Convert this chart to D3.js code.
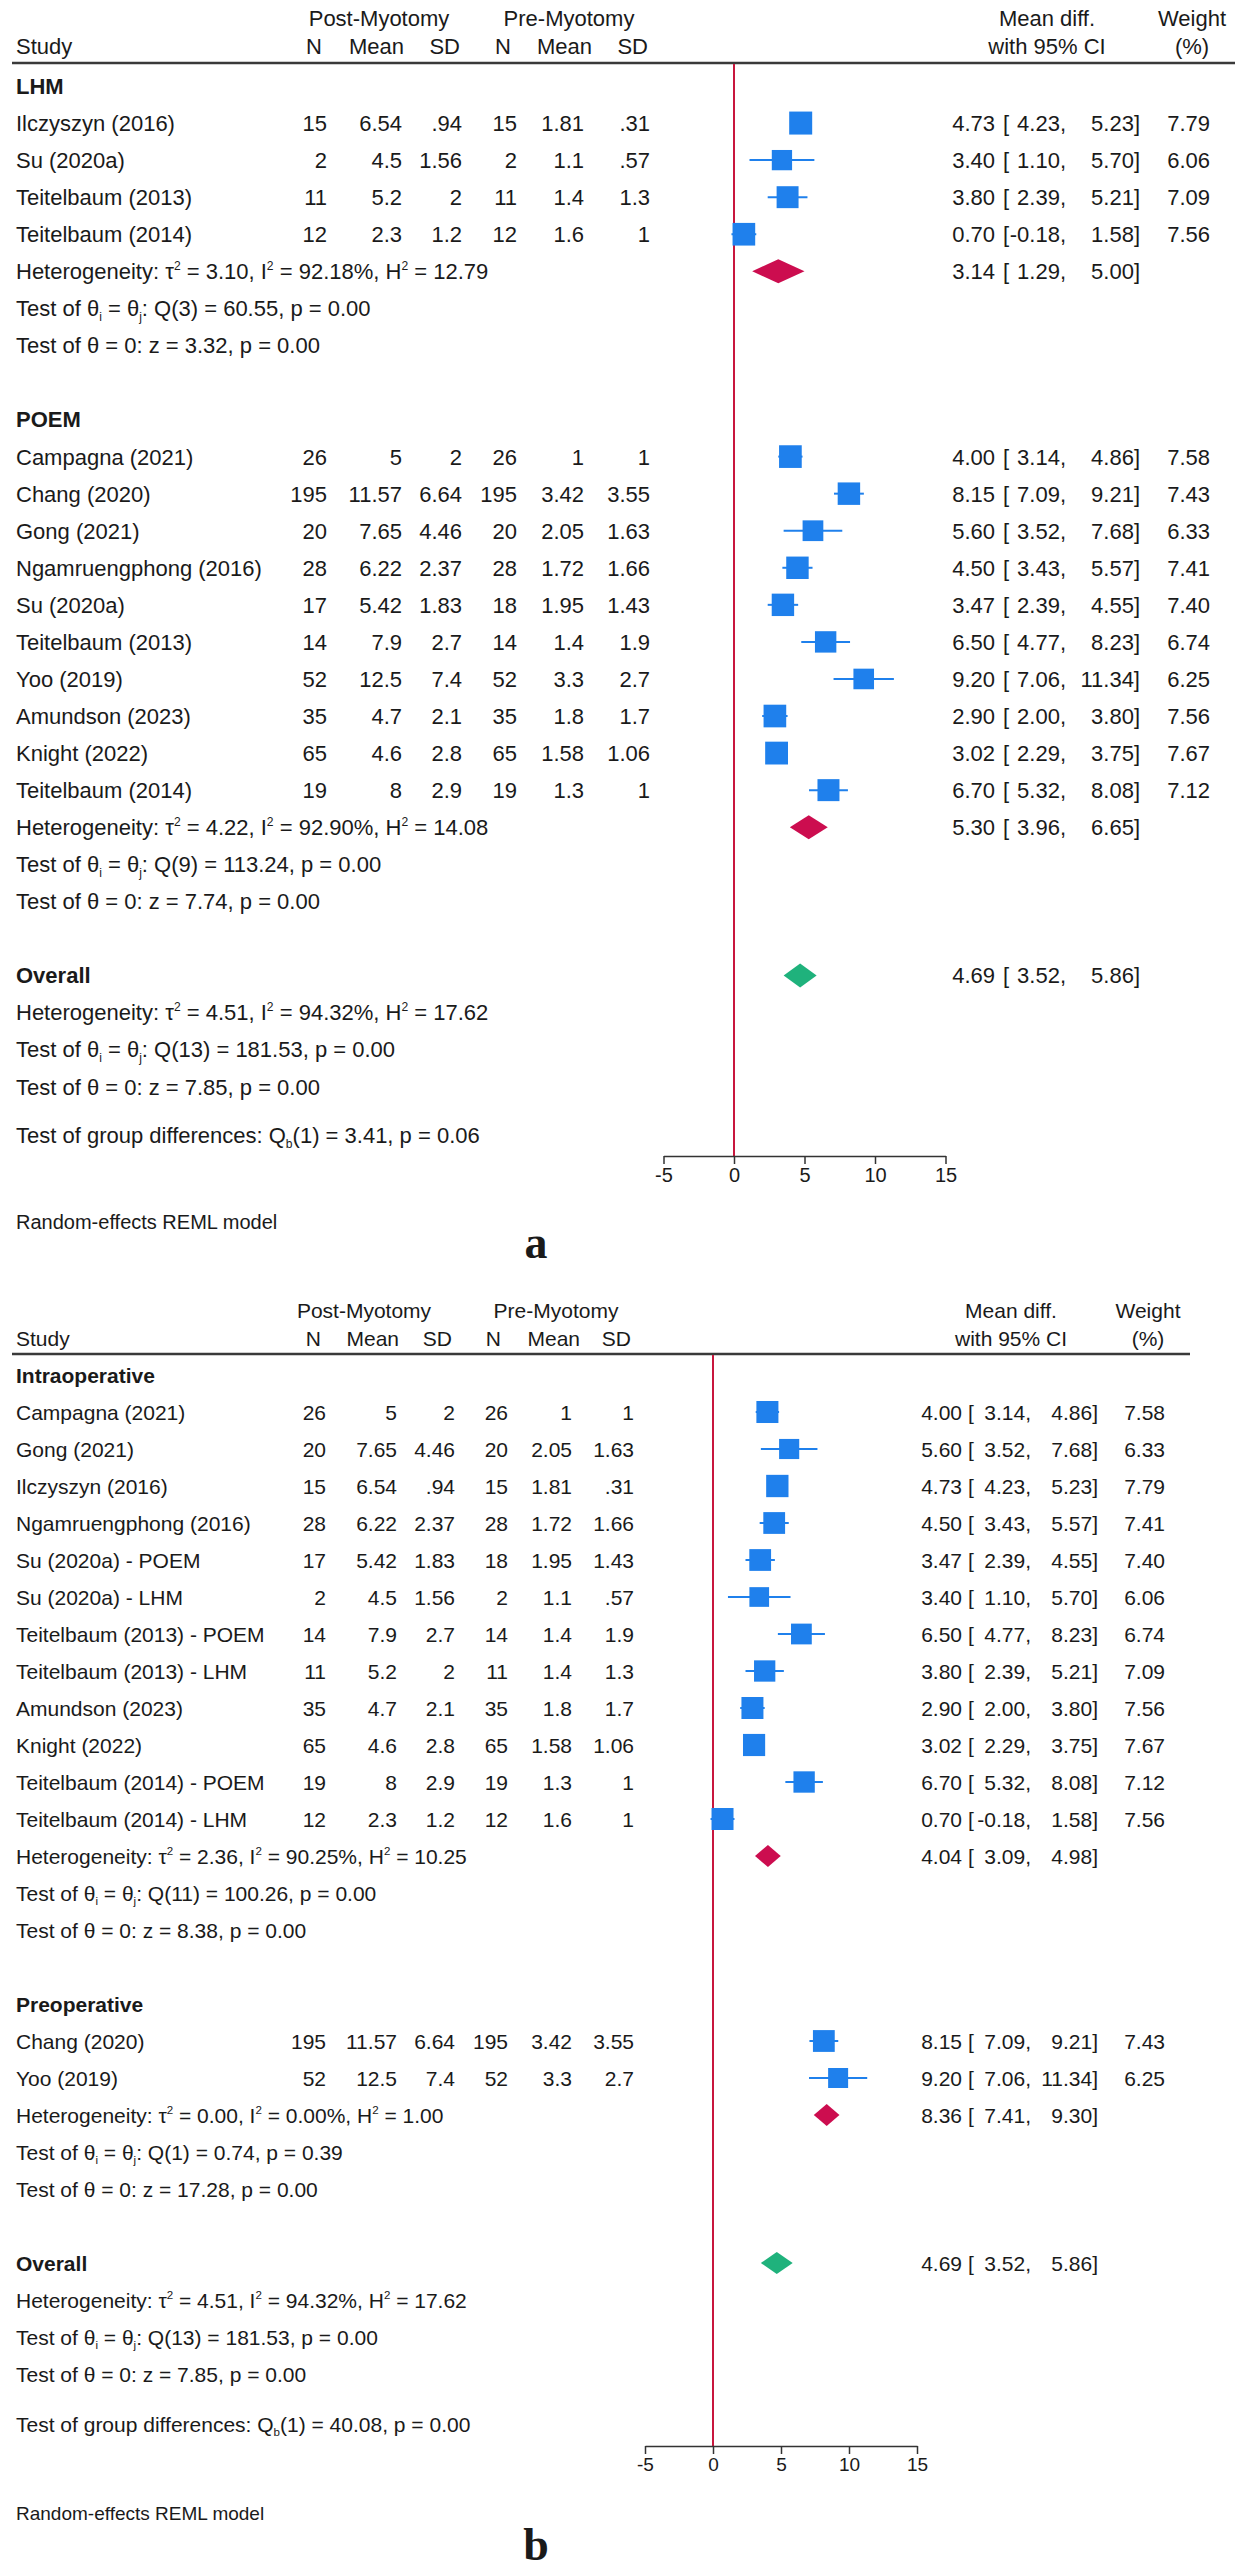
<!DOCTYPE html>
<html>
<head>
<meta charset="utf-8">
<script src="https://d3js.org/d3.v7.min.js"></script>
<style>
  body { margin: 0; background: #fff; }
  svg text { font-family: "Liberation Sans", Arial, sans-serif; fill: #1a1a1a; }
</style>
</head>
<body>
<svg id="forest" width="1241" height="2574"></svg>
<script>
// columns: study, postN, postMean, postSD, preN, preMean, preSD, md, lo, hi, weight
const lhmRows = [
  ["Ilczyszyn (2016)", 15, 6.54, .94, 15, 1.81, .31, 4.73, 4.23, 5.23, 7.79],
  ["Su (2020a)", 2, 4.5, 1.56, 2, 1.1, .57, 3.40, 1.10, 5.70, 6.06],
  ["Teitelbaum (2013)", 11, 5.2, 2, 11, 1.4, 1.3, 3.80, 2.39, 5.21, 7.09],
  ["Teitelbaum (2014)", 12, 2.3, 1.2, 12, 1.6, 1, 0.70, -0.18, 1.58, 7.56]
];
const poemRows = [
  ["Campagna (2021)", 26, 5, 2, 26, 1, 1, 4.00, 3.14, 4.86, 7.58],
  ["Chang (2020)", 195, 11.57, 6.64, 195, 3.42, 3.55, 8.15, 7.09, 9.21, 7.43],
  ["Gong (2021)", 20, 7.65, 4.46, 20, 2.05, 1.63, 5.60, 3.52, 7.68, 6.33],
  ["Ngamruengphong (2016)", 28, 6.22, 2.37, 28, 1.72, 1.66, 4.50, 3.43, 5.57, 7.41],
  ["Su (2020a)", 17, 5.42, 1.83, 18, 1.95, 1.43, 3.47, 2.39, 4.55, 7.40],
  ["Teitelbaum (2013)", 14, 7.9, 2.7, 14, 1.4, 1.9, 6.50, 4.77, 8.23, 6.74],
  ["Yoo (2019)", 52, 12.5, 7.4, 52, 3.3, 2.7, 9.20, 7.06, 11.34, 6.25],
  ["Amundson (2023)", 35, 4.7, 2.1, 35, 1.8, 1.7, 2.90, 2.00, 3.80, 7.56],
  ["Knight (2022)", 65, 4.6, 2.8, 65, 1.58, 1.06, 3.02, 2.29, 3.75, 7.67],
  ["Teitelbaum (2014)", 19, 8, 2.9, 19, 1.3, 1, 6.70, 5.32, 8.08, 7.12]
];
const intraRows = [
  ["Campagna (2021)", 26, 5, 2, 26, 1, 1, 4.00, 3.14, 4.86, 7.58],
  ["Gong (2021)", 20, 7.65, 4.46, 20, 2.05, 1.63, 5.60, 3.52, 7.68, 6.33],
  ["Ilczyszyn (2016)", 15, 6.54, .94, 15, 1.81, .31, 4.73, 4.23, 5.23, 7.79],
  ["Ngamruengphong (2016)", 28, 6.22, 2.37, 28, 1.72, 1.66, 4.50, 3.43, 5.57, 7.41],
  ["Su (2020a) - POEM", 17, 5.42, 1.83, 18, 1.95, 1.43, 3.47, 2.39, 4.55, 7.40],
  ["Su (2020a) - LHM", 2, 4.5, 1.56, 2, 1.1, .57, 3.40, 1.10, 5.70, 6.06],
  ["Teitelbaum (2013) - POEM", 14, 7.9, 2.7, 14, 1.4, 1.9, 6.50, 4.77, 8.23, 6.74],
  ["Teitelbaum (2013) - LHM", 11, 5.2, 2, 11, 1.4, 1.3, 3.80, 2.39, 5.21, 7.09],
  ["Amundson (2023)", 35, 4.7, 2.1, 35, 1.8, 1.7, 2.90, 2.00, 3.80, 7.56],
  ["Knight (2022)", 65, 4.6, 2.8, 65, 1.58, 1.06, 3.02, 2.29, 3.75, 7.67],
  ["Teitelbaum (2014) - POEM", 19, 8, 2.9, 19, 1.3, 1, 6.70, 5.32, 8.08, 7.12],
  ["Teitelbaum (2014) - LHM", 12, 2.3, 1.2, 12, 1.6, 1, 0.70, -0.18, 1.58, 7.56]
];
const preopRows = [
  ["Chang (2020)", 195, 11.57, 6.64, 195, 3.42, 3.55, 8.15, 7.09, 9.21, 7.43],
  ["Yoo (2019)", 52, 12.5, 7.4, 52, 3.3, 2.7, 9.20, 7.06, 11.34, 6.25]
];

// summaries: md, lo, hi
const lhmSummary = [3.14, 1.29, 5.00];
const poemSummary = [5.30, 3.96, 6.65];
const intraSummary = [4.04, 3.09, 4.98];
const preopSummary = [8.36, 7.41, 9.30];
const overallSummary = [4.69, 3.52, 5.86];

// heterogeneity: tau2, I2, H2 ; tests: df, Q, p, z, p
const lhmHet = ["3.10", "92.18%", "12.79"];
const lhmTests = ["3", "60.55", "0.00", "3.32", "0.00"];
const poemHet = ["4.22", "92.90%", "14.08"];
const poemTests = ["9", "113.24", "0.00", "7.74", "0.00"];
const intraHet = ["2.36", "90.25%", "10.25"];
const intraTests = ["11", "100.26", "0.00", "8.38", "0.00"];
const preopHet = ["0.00", "0.00%", "1.00"];
const preopTests = ["1", "0.74", "0.39", "17.28", "0.00"];
const overallHet = ["4.51", "94.32%", "17.62"];
const overallTests = ["13", "181.53", "0.00", "7.85", "0.00"];
const groupDiffA = ["1", "3.41", "0.06"];
const groupDiffB = ["1", "40.08", "0.00"];

const axisTicks = [-5, 0, 5, 10, 15];

const svg = d3.select("#forest");
svg.append("rect").attr("width", 1241).attr("height", 2574).attr("fill", "#fff");

const blue = "#1f80ec", crimson = "#cc0d4f", green = "#1fb27c", zeroRed = "#c8173d";

// stata style: .94 instead of 0.94
const fmt = v => String(v).replace(/^0\./, ".");

function drawPanel(cfg, groups, overall, het, tests, gdiff, letter) {
  const g = svg.append("g").style("font-size", cfg.fs + "px");
  const x = d3.scaleLinear().domain([-5, 15])
    .range([cfg.x0 - 5 * cfg.ux, cfg.x0 + 15 * cfg.ux]);
  const rowY = i => cfg.row0 + i * cfg.dy;
  const base = 0.36 * cfg.fs;

  const txt = (xx, yy, s, anchor) => g.append("text")
    .attr("x", xx).attr("y", yy + base)
    .attr("text-anchor", anchor || "start").text(s);

  // header
  txt(cfg.postC, cfg.h1, "Post-Myotomy", "middle");
  txt(cfg.preC, cfg.h1, "Pre-Myotomy", "middle");
  txt(cfg.mdC, cfg.h1, "Mean diff.", "middle");
  txt(cfg.wC, cfg.h1, "Weight", "middle");
  txt(cfg.studyX, cfg.h2, "Study");
  ["N", "Mean", "SD", "N", "Mean", "SD"].forEach((h, i) => txt(cfg.hdr[i], cfg.h2, h, "end"));
  txt(cfg.mdC, cfg.h2, "with 95% CI", "middle");
  txt(cfg.wC, cfg.h2, "(%)", "middle");
  g.append("line").attr("x1", 12).attr("x2", cfg.lineEnd)
    .attr("y1", cfg.hLine).attr("y2", cfg.hLine)
    .attr("stroke", "#3a3a3a").attr("stroke-width", 2.5);

  // zero line
  g.append("line").attr("x1", x(0)).attr("x2", x(0))
    .attr("y1", cfg.hLine + 1).attr("y2", cfg.axisY)
    .attr("stroke", zeroRed).attr("stroke-width", 2);

  const ciText = (yy, md, lo, hi, w) => {
    txt(cfg.estR, yy, md.toFixed(2), "end");
    txt(cfg.brX, yy, "[");
    txt(cfg.loR, yy, lo.toFixed(2) + ",", "end");
    txt(cfg.hiR, yy, hi.toFixed(2) + "]", "end");
    if (w !== undefined) txt(cfg.wR, yy, w.toFixed(2), "end");
  };

  const diamond = (yy, s, color) => g.append("polygon")
    .attr("points", [[x(s[1]), yy], [x(s[0]), yy - cfg.dh], [x(s[2]), yy], [x(s[0]), yy + cfg.dh]].join(" "))
    .attr("fill", color);

  const hetLine = (yy, h) => {
    const t = g.append("text").attr("x", cfg.studyX).attr("y", yy + base);
    const sup = s => { t.append("tspan").attr("dy", -0.42 * cfg.fs).style("font-size", (cfg.fs * 0.55) + "px").text("2");
                       t.append("tspan").attr("dy", 0.42 * cfg.fs).text(s); };
    t.append("tspan").text("Heterogeneity: τ");
    sup(" = " + h[0] + ", I");
    sup(" = " + h[1] + ", H");
    sup(" = " + h[2]);
  };
  const qLine = (yy, tt) => {
    const t = g.append("text").attr("x", cfg.studyX).attr("y", yy + base);
    const sub = (c, s) => { t.append("tspan").attr("dy", 0.22 * cfg.fs).style("font-size", (cfg.fs * 0.55) + "px").text(c);
                            t.append("tspan").attr("dy", -0.22 * cfg.fs).text(s); };
    t.append("tspan").text("Test of θ");
    sub("i", " = θ");
    sub("j", ": Q(" + tt[0] + ") = " + tt[1] + ", p = " + tt[2]);
  };
  const zLine = (yy, tt) => txt(cfg.studyX, yy, "Test of θ = 0: z = " + tt[3] + ", p = " + tt[4]);

  let r = 0;
  groups.forEach(gr => {
    txt(cfg.studyX, rowY(r), gr.label).style("font-weight", "bold");
    r++;
    gr.rows.forEach(d => {
      const yy = rowY(r);
      txt(cfg.studyX, yy, d[0]);
      d.slice(1, 7).forEach((v, i) => txt(cfg.col[i], yy, fmt(v), "end"));
      g.append("line").attr("x1", x(d[8])).attr("x2", x(d[9]))
        .attr("y1", yy).attr("y2", yy).attr("stroke", blue).attr("stroke-width", 2);
      const s = cfg.k * Math.sqrt(d[10]);
      g.append("rect").attr("x", x(d[7]) - s / 2).attr("y", yy - s / 2)
        .attr("width", s).attr("height", s).attr("fill", blue);
      ciText(yy, d[7], d[8], d[9], d[10]);
      r++;
    });
    hetLine(rowY(r), gr.het);
    diamond(rowY(r), gr.summary, crimson);
    ciText(rowY(r), gr.summary[0], gr.summary[1], gr.summary[2]);
    r++;
    qLine(rowY(r), gr.tests); r++;
    zLine(rowY(r), gr.tests); r++;
    r++;
  });
  txt(cfg.studyX, rowY(r), "Overall").style("font-weight", "bold");
  diamond(rowY(r), overall, green);
  ciText(rowY(r), overall[0], overall[1], overall[2]);
  r++;
  hetLine(rowY(r), het); r++;
  qLine(rowY(r), tests); r++;
  zLine(rowY(r), tests); r++;

  // group differences
  const t = g.append("text").attr("x", cfg.studyX).attr("y", cfg.gdY + base);
  t.append("tspan").text("Test of group differences: Q");
  t.append("tspan").attr("dy", 0.22 * cfg.fs).style("font-size", (cfg.fs * 0.55) + "px").text("b");
  t.append("tspan").attr("dy", -0.22 * cfg.fs).text("(" + gdiff[0] + ") = " + gdiff[1] + ", p = " + gdiff[2]);

  // axis
  const ax = g.append("g").attr("transform", `translate(0,${cfg.axisY})`)
    .call(d3.axisBottom(x).tickValues(axisTicks).tickSize(8).tickSizeOuter(0).tickFormat(d => String(d)));
  ax.attr("font-size", cfg.fs - 2).attr("font-family", "Liberation Sans, Arial, sans-serif");
  ax.select(".domain").attr("stroke", "#333").attr("stroke-width", 1.5);
  ax.selectAll(".tick line").attr("stroke", "#333").attr("stroke-width", 1.5);
  ax.selectAll(".tick text").attr("fill", "#1a1a1a").attr("y", 12);

  g.append("text").attr("x", cfg.studyX).attr("y", cfg.reY + base)
    .style("font-size", (cfg.fs - 2) + "px").text("Random-effects REML model");

  svg.append("text").attr("x", cfg.letterX).attr("y", cfg.letterY)
    .attr("text-anchor", "middle")
    .style("font-family", "'Liberation Serif', 'Times New Roman', serif")
    .style("font-weight", "bold").style("font-size", "46px").text(letter);
}

drawPanel({
  fs: 22, studyX: 16, h1: 18, h2: 46, hLine: 63, lineEnd: 1235,
  postC: 379, preC: 569, mdC: 1047, wC: 1192,
  hdr: [322, 404, 460, 511, 592, 648],
  col: [327, 402, 462, 517, 584, 650],
  x0: 734, ux: 14.1, k: 8.24, dh: 12,
  estR: 995, brX: 1003, loR: 1066, hiR: 1140, wR: 1210,
  row0: 86, dy: 37.06, gdY: 1135, axisY: 1156, reY: 1221,
  letterX: 536, letterY: 1258
}, [
  { label: "LHM", rows: lhmRows, summary: lhmSummary, het: lhmHet, tests: lhmTests },
  { label: "POEM", rows: poemRows, summary: poemSummary, het: poemHet, tests: poemTests }
], overallSummary, overallHet, overallTests, groupDiffA, "a");

drawPanel({
  fs: 21, studyX: 16, h1: 1310, h2: 1338, hLine: 1354, lineEnd: 1190,
  postC: 364, preC: 556, mdC: 1011, wC: 1148,
  hdr: [321, 399, 452, 501, 580, 631],
  col: [326, 397, 455, 508, 572, 634],
  x0: 713, ux: 13.6, k: 8.0, dh: 11,
  estR: 962, brX: 968, loR: 1031, hiR: 1098, wR: 1165,
  row0: 1375, dy: 37, gdY: 2424, axisY: 2446, reY: 2512,
  letterX: 536, letterY: 2560
}, [
  { label: "Intraoperative", rows: intraRows, summary: intraSummary, het: intraHet, tests: intraTests },
  { label: "Preoperative", rows: preopRows, summary: preopSummary, het: preopHet, tests: preopTests }
], overallSummary, overallHet, overallTests, groupDiffB, "b");
</script>
</body>
</html>
